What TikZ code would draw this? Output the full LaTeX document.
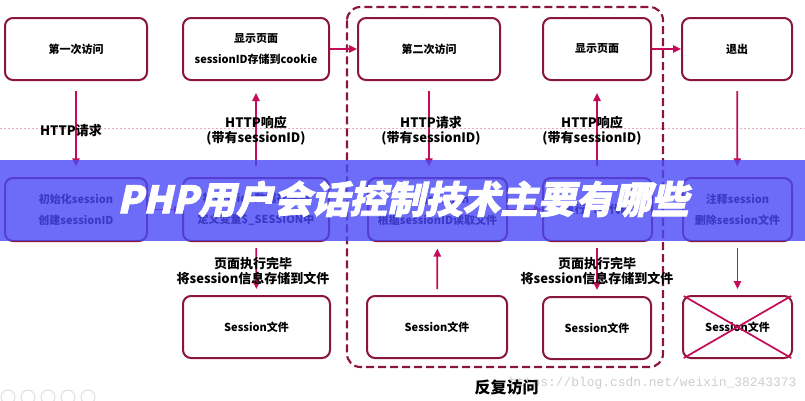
\documentclass[tikz,border=0pt]{standalone}
\usepackage{fontspec}
\setmainfont{Noto Sans CJK SC}
\newfontfamily\wmfont{Liberation Mono}
\newfontfamily\titlefont[FakeSlant=0.22,FakeBold=2]{Noto Sans CJK SC}
\usetikzlibrary{arrows.meta}
\definecolor{boxred}{RGB}{138,22,58}
\definecolor{arrred}{RGB}{196,12,88}
\definecolor{guide}{RGB}{236,170,192}
\definecolor{banner}{RGB}{72,72,248}
\definecolor{wmgray}{RGB}{205,205,205}
\tikzset{
  bx/.style 2 args={draw=boxred, line width=1.5pt, rounded corners=6pt, fill=white,
    minimum width=#1*0.75pt, minimum height=#2*0.75pt, inner sep=0pt, align=center,
    font=\fontsize{8.25}{15.75}\selectfont\bfseries},
  arr/.style={draw=arrred, line width=1.3pt, -{Triangle[length=6pt,width=5.5pt]}},
  lbl/.style={align=center, inner sep=0pt, font=\fontsize{9.75}{11.25}\selectfont\bfseries},
}
\begin{document}
\begin{tikzpicture}[x=0.75pt,y=-0.75pt]
\useasboundingbox (0,0) rectangle (805,400);
% guide line
\draw[guide, line width=0.5pt, dash pattern=on 1.5pt off 1.5pt] (0,128) -- (805,128);
% dashed repeat box
\draw[boxred, line width=1.6pt, dash pattern=on 6pt off 3pt, rounded corners=10pt] (347,7) rectangle (663,367);
% row 1
\node[bx={142}{62}] (A1) at (76,49) {第一次访问};
\node[bx={146}{62}] (A2) at (256,49) {显示页面\\sessionID存储到cookie};
\node[bx={142}{62}] (A3) at (429,49) {第二次访问};
\node[bx={108}{62}] (A4) at (597,49) {显示页面};
\node[bx={110}{62}] (A5) at (737,49) {退出};
% row 2
\node[bx={142}{63}] (B1) at (76,209.5) {初始化session\\创建sessionID};
\node[bx={146}{63}] (B2) at (256,209.5) {将session数据存储到\\定义变量\$\_SESSION中};
\node[bx={139}{63}] (B3) at (437.5,209.5) {开启session\\根据sessionID读取文件};
\node[bx={109}{63}] (B4) at (597.5,209.5) {执行PHP代码};
\node[bx={109}{63}] (B5) at (737.5,209.5) {注释session\\删除session文件};
% row 3
\node[bx={147}{62}] (C2) at (256.5,327) {Session文件};
\node[bx={140}{62}] (C3) at (437,327) {Session文件};
\node[bx={108}{62}] (C4) at (597,328) {Session文件};
\node[bx={109}{62}] (C5) at (737.5,327) {Session文件};
\draw[arrred, line width=1.3pt, shorten <=1.5pt, shorten >=1.5pt] (C5.north west) -- (C5.south east);
\draw[arrred, line width=1.3pt, shorten <=1.5pt, shorten >=1.5pt] (C5.north east) -- (C5.south west);
% arrows
\draw[arr, shorten <=7.5pt, shorten >=8pt] (A1) -- (B1);
\draw[arr] (B1) -- (B2);
\draw[arr, shorten <=8pt, shorten >=9pt] (B2) -- (A2);
\draw[arr] (A2) -- (A3);
\draw[arr, shorten <=7.5pt, shorten >=8pt] (A3.south) -- (A3.south |- B3.north);
\draw[arr] (B3) -- (B4);
\draw[arr, shorten <=8pt, shorten >=9pt] (B4.north -| A4) -- (A4.south);
\draw[arr] (A4) -- (A5);
\draw[arr, shorten <=7.5pt, shorten >=8pt] (A5) -- (B5);
\draw[arr, shorten <=4.5pt, shorten >=4.5pt] (B2) -- (C2);
\draw[arr, shorten <=4.5pt, shorten >=5pt] (C3) -- (B3);
\draw[arr, shorten <=4.5pt, shorten >=4.5pt] (B4.south -| C4) -- (C4.north);
\draw[arr, shorten <=4.5pt, shorten >=4.5pt] (B5) -- (C5);
% labels
\node[lbl] (L1) at (71,131) {HTTP请求};
\node[lbl] (L2) at (256,130.5) {HTTP响应\\(带有sessionID)};
\node[lbl] (L3) at (431,130.5) {HTTP请求\\(带有sessionID)};
\node[lbl] (L4) at (592,130.5) {HTTP响应\\(带有sessionID)};
\node[lbl] (L5) at (253,270.5) {页面执行完毕\\将session信息存储到文件};
\node[lbl] (L6) at (597,270.5) {页面执行完毕\\将session信息存储到文件};
% watermark and footer
\node[anchor=west, inner sep=0pt, text=wmgray, font=\wmfont\fontsize{9.7}{10}\selectfont] (WM) at (509,383) {https://blog.csdn.net/weixin\_38243373};
\node[inner sep=0pt, font=\fontsize{12}{14}\selectfont\bfseries] (RV) at (506.5,387) {反复访问};
\foreach \cx in {8,28,48,68,88}
  \draw[black!12, line width=0.8pt] (\cx,397) circle (5.2pt);
% banner
\fill[banner, opacity=0.8] (0,160) rectangle (805,241);
\node[inner sep=0pt, text=white, font=\titlefont\bfseries\fontsize{28.3}{30}\selectfont] (T) at (403,199) {PHP用户会话控制技术主要有哪些};
\end{tikzpicture}
\end{document}
